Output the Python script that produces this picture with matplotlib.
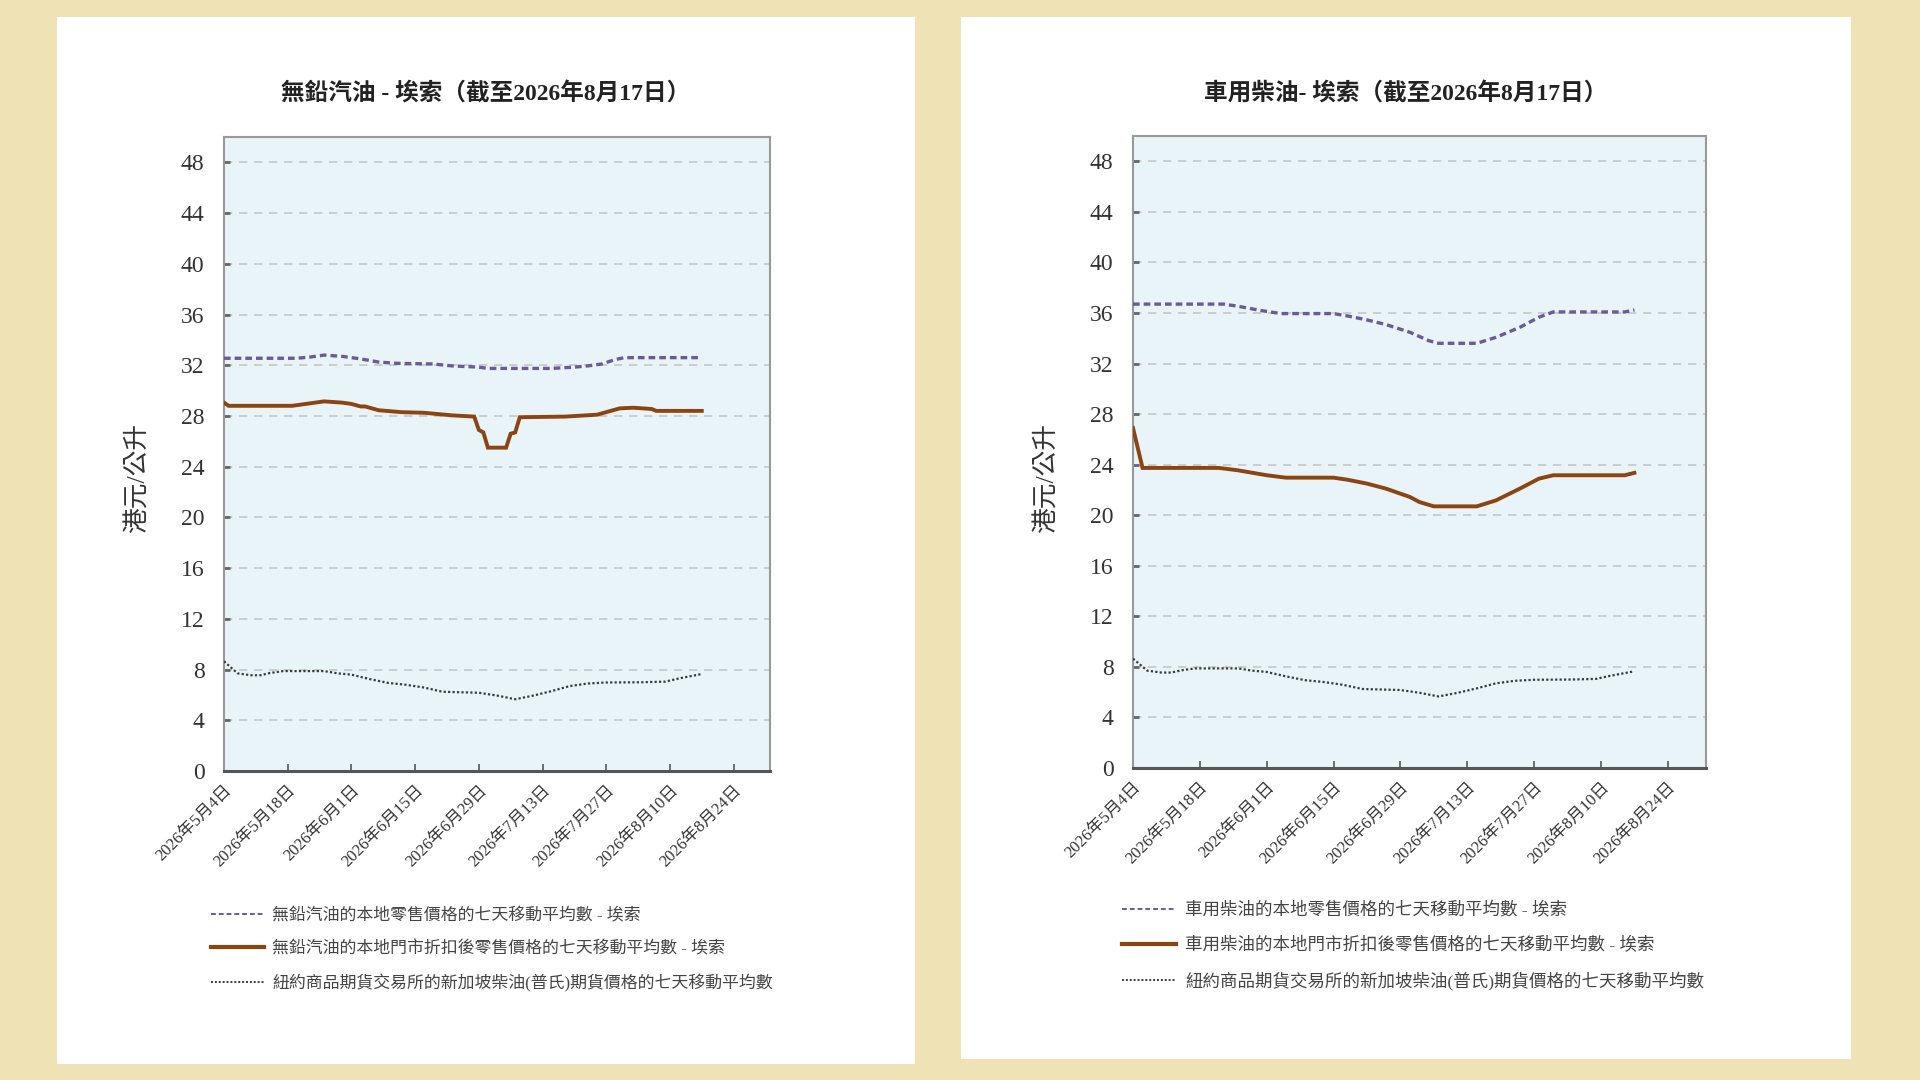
import matplotlib
matplotlib.use("Agg")
import matplotlib.pyplot as plt
from matplotlib.patches import Rectangle
from matplotlib.lines import Line2D
import pandas as pd

plt.rcParams["font.family"] = ["Liberation Serif", "Noto Sans CJK TC", "DejaVu Sans"]

# --------------------
# Data
# --------------------
tick_dates = ["2026-05-04", "2026-05-18", "2026-06-01", "2026-06-15", "2026-06-29",
              "2026-07-13", "2026-07-27", "2026-08-10", "2026-08-24"]

# unleaded petrol - local retail price (7-day MA)
petrol_retail_dates = ["2026-05-04", "2026-05-20", "2026-05-23", "2026-05-26", "2026-05-30",
                       "2026-06-03", "2026-06-07", "2026-06-11", "2026-06-19", "2026-06-23",
                       "2026-06-29", "2026-07-01", "2026-07-15", "2026-07-20", "2026-07-23",
                       "2026-07-26", "2026-07-29", "2026-07-31", "2026-08-17"]
petrol_retail = [32.55, 32.55, 32.65, 32.8, 32.7, 32.5, 32.25, 32.15, 32.1, 31.95,
                 31.85, 31.75, 31.75, 31.85, 31.95, 32.1, 32.45, 32.6, 32.6]

# unleaded petrol - discounted retail price (7-day MA)
petrol_disc_dates = ["2026-05-04", "2026-05-05", "2026-05-19", "2026-05-23", "2026-05-26",
                     "2026-05-30", "2026-06-01", "2026-06-03", "2026-06-04", "2026-06-07",
                     "2026-06-12", "2026-06-17", "2026-06-23", "2026-06-28", "2026-06-29",
                     "2026-06-30", "2026-07-01", "2026-07-05", "2026-07-06", "2026-07-07",
                     "2026-07-08", "2026-07-18", "2026-07-25", "2026-07-27", "2026-07-30",
                     "2026-08-02", "2026-08-06", "2026-08-07", "2026-08-17"]
petrol_disc = [29.05, 28.8, 28.8, 29.0, 29.15, 29.05, 28.95, 28.75, 28.75, 28.45,
               28.3, 28.25, 28.05, 27.95, 26.9, 26.7, 25.5, 25.5, 26.6, 26.7,
               27.9, 27.95, 28.1, 28.3, 28.6, 28.65, 28.55, 28.4, 28.4]

# diesel - local retail price (7-day MA)
diesel_retail_dates = ["2026-05-04", "2026-05-23", "2026-05-26", "2026-05-31", "2026-06-04",
                       "2026-06-15", "2026-06-18", "2026-06-22", "2026-06-26", "2026-07-01",
                       "2026-07-05", "2026-07-07", "2026-07-15", "2026-07-19", "2026-07-24",
                       "2026-07-28", "2026-07-31", "2026-08-15", "2026-08-17"]
diesel_retail = [36.7, 36.7, 36.53, 36.18, 35.95, 35.95, 35.76, 35.45, 35.08, 34.47,
                 33.8, 33.6, 33.6, 34.07, 34.86, 35.66, 36.08, 36.08, 36.24]

# diesel - discounted retail price (7-day MA)
diesel_disc_dates = ["2026-05-04", "2026-05-06", "2026-05-22", "2026-05-26", "2026-06-01",
                     "2026-06-05", "2026-06-15", "2026-06-18", "2026-06-22", "2026-06-26",
                     "2026-07-01", "2026-07-03", "2026-07-06", "2026-07-15", "2026-07-19",
                     "2026-07-24", "2026-07-28", "2026-07-31", "2026-08-15", "2026-08-17"]
diesel_disc = [26.9, 23.74, 23.74, 23.55, 23.16, 22.97, 22.97, 22.8, 22.5, 22.1,
               21.44, 21.04, 20.7, 20.7, 21.17, 22.1, 22.89, 23.16, 23.16, 23.35]

# NYMEX Singapore gasoil (Platts) futures (7-day MA)
gasoil_dates = ["2026-05-04", "2026-05-07", "2026-05-10", "2026-05-12", "2026-05-14",
                "2026-05-17", "2026-05-26", "2026-05-29", "2026-06-01", "2026-06-05",
                "2026-06-09", "2026-06-13", "2026-06-17", "2026-06-21", "2026-06-29",
                "2026-07-03", "2026-07-07", "2026-07-11", "2026-07-15", "2026-07-19",
                "2026-07-23", "2026-07-27", "2026-08-04", "2026-08-09", "2026-08-12",
                "2026-08-17"]
gasoil = [8.65, 7.7, 7.55, 7.55, 7.72, 7.88, 7.88, 7.7, 7.6, 7.25,
          6.95, 6.8, 6.58, 6.25, 6.17, 5.95, 5.66, 5.95, 6.3, 6.7,
          6.9, 6.98, 7.0, 7.05, 7.3, 7.65]

titles = ["無鉛汽油 - 埃索（截至2026年8月17日）", "車用柴油- 埃索（截至2026年8月17日）"]
legend_labels = [
    ["無鉛汽油的本地零售價格的七天移動平均數 - 埃索",
     "無鉛汽油的本地門市折扣後零售價格的七天移動平均數 - 埃索",
     "紐約商品期貨交易所的新加坡柴油(普氏)期貨價格的七天移動平均數"],
    ["車用柴油的本地零售價格的七天移動平均數 - 埃索",
     "車用柴油的本地門市折扣後零售價格的七天移動平均數 - 埃索",
     "紐約商品期貨交易所的新加坡柴油(普氏)期貨價格的七天移動平均數"],
]
y_label = "港元/公升"
y_ticks = list(range(0, 49, 4))

# --------------------
# Styles
# --------------------
BG = "#efe3b6"
FACE = "#e8f4f8"
PURPLE = "#6a5a98"
BROWN = "#8b4513"
DOTS = "#3a3a3a"
CJK = ["Liberation Serif", "Noto Sans CJK TC", "DejaVu Sans"]

fig = plt.figure(figsize=(19.2, 10.8), dpi=100, facecolor=BG)

# white panels
fig.patches.append(Rectangle((57 / 1920, 1 - 1064 / 1080), 858 / 1920, 1047 / 1080,
                             transform=fig.transFigure, facecolor="white", edgecolor="none", zorder=-10))
fig.patches.append(Rectangle((961 / 1920, 1 - 1059 / 1080), 890 / 1920, 1042 / 1080,
                             transform=fig.transFigure, facecolor="white", edgecolor="none", zorder=-10))

panels = [
    dict(rect=[224 / 1920, 1 - 771 / 1080, 546 / 1920, 634 / 1080],
         retail=(petrol_retail_dates, petrol_retail), disc=(petrol_disc_dates, petrol_disc),
         title_xy=(486 / 1920, 1 - 93 / 1080), ylab_xy=(138 / 1920, 1 - 478 / 1080),
         leg_xy=(211 / 1920, 1 - 908 / 1080), leg_size=12.2),
    dict(rect=[1133 / 1920, 1 - 768 / 1080, 573 / 1920, 632 / 1080],
         retail=(diesel_retail_dates, diesel_retail), disc=(diesel_disc_dates, diesel_disc),
         title_xy=(1406 / 1920, 1 - 93 / 1080), ylab_xy=(1047 / 1920, 1 - 478 / 1080),
         leg_xy=(1122 / 1920, 1 - 902 / 1080), leg_size=12.6),
]

for i, p in enumerate(panels):
    ax = fig.add_axes(p["rect"], zorder=2)
    ax.set_facecolor(FACE)

    ax.plot(pd.to_datetime(p["retail"][0]), p["retail"][1], color=PURPLE, lw=2.4,
            linestyle=(0, (2.0, 1.2)), zorder=3)
    ax.plot(pd.to_datetime(p["disc"][0]), p["disc"][1], color=BROWN, lw=2.8,
            solid_joinstyle="miter", zorder=3)
    ax.plot(pd.to_datetime(gasoil_dates), gasoil, color=DOTS, lw=1.6,
            linestyle=(0, (1, 1)), zorder=3)

    ax.set_ylim(0, 50)
    ax.set_yticks(y_ticks)
    ax.set_xlim(pd.Timestamp("2026-05-04"), pd.Timestamp("2026-09-01"))
    ticks = pd.to_datetime(tick_dates)
    ax.set_xticks(ticks)
    ax.set_xticklabels([f"{d.year}年{d.month}月{d.day}日" for d in ticks],
                       rotation=45, ha="right", rotation_mode="anchor",
                       fontsize=12, family=CJK, color="#333333")
    for lab in ax.get_yticklabels():
        lab.set_fontsize(17)
        lab.set_color("#333333")

    ax.grid(axis="y", color="#c6c6c6", lw=1.2, linestyle=(0, (5, 4)))
    ax.set_axisbelow(True)
    ax.tick_params(axis="y", direction="in", length=4, width=2, color="#666666", pad=14)
    ax.tick_params(axis="x", direction="in", length=5, width=1.2, color="#555555", pad=8)

    for side in ["left", "top", "right"]:
        ax.spines[side].set_color("#999999")
        ax.spines[side].set_linewidth(1.5)
    ax.spines["bottom"].set_color("#555555")
    ax.spines["bottom"].set_linewidth(2.2)

    fig.text(p["title_xy"][0], p["title_xy"][1], titles[i], ha="center", va="center",
             fontsize=17, family=CJK, weight="bold", color="#222222")
    fig.text(p["ylab_xy"][0], p["ylab_xy"][1], y_label, ha="center", va="center",
             rotation=90, fontsize=18.5, family=CJK, color="#333333")

    handles = [Line2D([], [], color=PURPLE, lw=1.4, linestyle=(0, (2.5, 1.5))),
               Line2D([], [], color=BROWN, lw=3.0),
               Line2D([], [], color=DOTS, lw=1.4, linestyle=(0, (1, 1)))]
    leg = ax.legend(handles, legend_labels[i], loc="upper left",
                    bbox_to_anchor=p["leg_xy"], bbox_transform=fig.transFigure,
                    frameon=False, borderpad=0, borderaxespad=0, handlelength=3.1,
                    handletextpad=0.5, labelspacing=1.0,
                    prop={"family": CJK, "size": p["leg_size"]})
    for t in leg.get_texts():
        t.set_color("#444444")

fig.savefig("out.png", dpi=100, facecolor=BG)
